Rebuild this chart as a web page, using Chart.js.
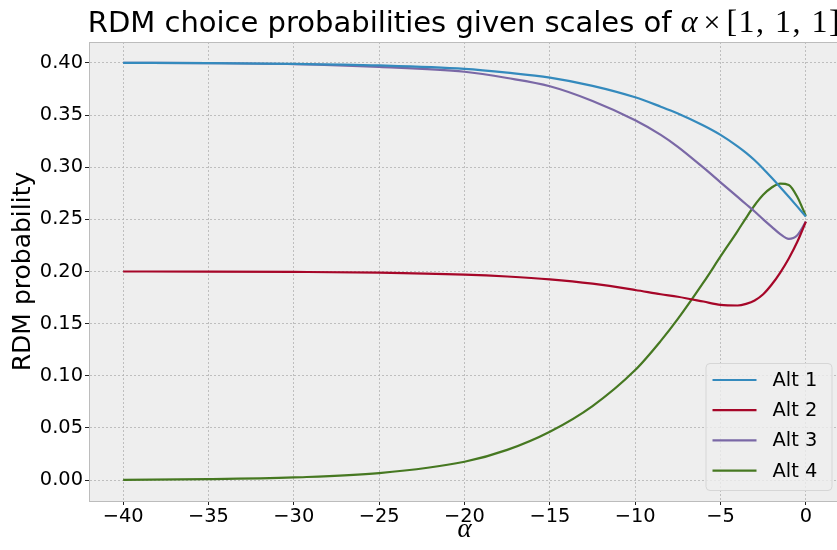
<!DOCTYPE html>
<html>
<head>
<meta charset="utf-8">
<script src="https://cdn.jsdelivr.net/npm/chart.js@4.4.1/dist/chart.umd.min.js"></script>
<style>
  html, body { margin: 0; padding: 0; background: #fff; overflow: hidden; }
  canvas { display: block; }
</style>
</head>
<body>
<canvas id="rdmChart" width="845" height="550"></canvas>
<script>
const alphas = [-40, -35, -30, -25, -20, -17.5, -15, -12.5, -10, -8.5, -7.5, -6, -5, -4, -3.5, -3, -2.5, -2, -1.5, -1, -0.5, 0];

const alt1 = [0.4000, 0.3998, 0.3991, 0.3975, 0.3942, 0.3906, 0.3859, 0.3780, 0.3670, 0.3580, 0.3515, 0.3400, 0.3310, 0.3200, 0.3137, 0.3066, 0.2985, 0.2898, 0.2808, 0.2716, 0.2622, 0.2526];
const alt2 = [0.2000, 0.1999, 0.1996, 0.1989, 0.1970, 0.1952, 0.1925, 0.1883, 0.1823, 0.1782, 0.1758, 0.1712, 0.1680, 0.1674, 0.1690, 0.1722, 0.1782, 0.1875, 0.1990, 0.2125, 0.2285, 0.2478];
const alt3 = [0.4000, 0.3997, 0.3988, 0.3962, 0.3915, 0.3855, 0.3776, 0.3635, 0.3450, 0.3310, 0.3195, 0.2995, 0.2855, 0.2715, 0.2645, 0.2575, 0.2500, 0.2428, 0.2358, 0.2313, 0.2348, 0.2478];
const alt4 = [0.0003, 0.0009, 0.0026, 0.0067, 0.0176, 0.0290, 0.0464, 0.0710, 0.1055, 0.1335, 0.1545, 0.1895, 0.2144, 0.2388, 0.2515, 0.2635, 0.2735, 0.2805, 0.2843, 0.2830, 0.2715, 0.2532];

const seriesNames = ['Alt 1', 'Alt 2', 'Alt 3', 'Alt 4'];
const seriesColors = ['#348ABD', '#A60628', '#7A68A6', '#467821'];

const xTicks = [-40, -35, -30, -25, -20, -15, -10, -5, 0];
const yTicks = [0.00, 0.05, 0.10, 0.15, 0.20, 0.25, 0.30, 0.35, 0.40];

const titleMain = 'RDM choice probabilities given scales of ';
const titleMath = ['α', '×', '[1, 1, 1]'];
const xLabel = 'α';
const yLabel = 'RDM probability';

// build datasets from the arrays
const allSeries = [alt1, alt2, alt3, alt4];
const datasets = allSeries.map((vals, i) => ({
    label: seriesNames[i],
    data: vals.map((v, j) => ({ x: alphas[j], y: v })),
    borderColor: seriesColors[i],
    backgroundColor: seriesColors[i],
    borderWidth: 2.2,
    pointRadius: 0,
    fill: false,
    cubicInterpolationMode: 'monotone'
}));

// matplotlib bmh look: grey panel, frame, title, labels, legend
const bmhDecor = {
    id: 'bmhDecor',
    beforeDraw(chart) {
        const ctx = chart.ctx;
        const a = chart.chartArea;
        ctx.save();
        ctx.fillStyle = '#ffffff';
        ctx.fillRect(0, 0, chart.width, chart.height);
        ctx.fillStyle = '#eeeeee';
        ctx.fillRect(a.left, a.top, a.right - a.left, a.bottom - a.top);
        ctx.restore();
    },
    afterDraw(chart) {
        const ctx = chart.ctx;
        const a = chart.chartArea;
        ctx.save();

        // frame
        ctx.strokeStyle = '#bcbcbc';
        ctx.lineWidth = 1;
        ctx.strokeRect(a.left + 0.5, a.top + 0.5, a.right - a.left - 1, a.bottom - a.top);

        // title with math part
        const cx = (a.left + a.right) / 2;
        const parts = [
            { t: titleMain, f: '29px "DejaVu Sans"', gap: 0, ls: '0px' },
            { t: titleMath[0], f: 'italic 32px "Liberation Serif"', gap: 0, ls: '0px' },
            { t: titleMath[1], f: '30px "Liberation Serif"', gap: 6, ls: '0px' },
            { t: titleMath[2], f: '32px "Liberation Serif"', gap: 6, ls: '1.5px' }
        ];
        let total = 0;
        parts.forEach(p => {
            ctx.font = p.f;
            ctx.letterSpacing = p.ls;
            p.w = ctx.measureText(p.t).width;
            total += p.w + p.gap;
        });
        let x = cx - total / 2;
        ctx.fillStyle = '#000';
        ctx.textBaseline = 'alphabetic';
        ctx.textAlign = 'left';
        parts.forEach(p => {
            x += p.gap;
            ctx.font = p.f;
            ctx.letterSpacing = p.ls;
            ctx.fillText(p.t, x, 32);
            x += p.w;
        });
        ctx.letterSpacing = '0px';

        // axis labels
        ctx.font = 'italic 27px "Liberation Serif"';
        ctx.textAlign = 'center';
        ctx.textBaseline = 'middle';
        ctx.fillText(xLabel, cx, 530);

        ctx.save();
        ctx.translate(23, (a.top + a.bottom) / 2);
        ctx.rotate(-Math.PI / 2);
        ctx.font = '25px "DejaVu Sans"';
        ctx.fillText(yLabel, 0, 0);
        ctx.restore();

        // legend, lower right inside the axes
        const boxW = 126, boxH = 127;
        const bx = a.right - 8.5 - boxW;
        const by = a.bottom - 11 - boxH;
        ctx.beginPath();
        ctx.roundRect(bx + 0.5, by + 0.5, boxW, boxH, 4);
        ctx.fillStyle = 'rgba(238,238,238,0.8)';
        ctx.fill();
        ctx.strokeStyle = '#d6d6d6';
        ctx.lineWidth = 1;
        ctx.stroke();

        ctx.font = '19.4px "DejaVu Sans"';
        ctx.textAlign = 'left';
        ctx.textBaseline = 'middle';
        chart.data.datasets.forEach((ds, i) => {
            const ry = by + 17 + i * 30.2;
            ctx.strokeStyle = ds.borderColor;
            ctx.lineWidth = 2.2;
            ctx.beginPath();
            ctx.moveTo(bx + 7, ry);
            ctx.lineTo(bx + 51, ry);
            ctx.stroke();
            ctx.fillStyle = '#000';
            ctx.fillText(ds.label, bx + 67, ry + 1);
        });
        ctx.restore();
    }
};

const tickFont = { family: '"DejaVu Sans"', size: 19.4 };

new Chart(document.getElementById('rdmChart'), {
    type: 'line',
    data: { datasets },
    options: {
        responsive: false,
        animation: false,
        layout: { padding: { top: 42, right: 5, left: 0, bottom: 0 } },
        plugins: {
            legend: { display: false },
            tooltip: { enabled: false },
            title: { display: false }
        },
        scales: {
            x: {
                type: 'linear',
                min: -42,
                max: 2,
                afterBuildTicks: (scale) => { scale.ticks = xTicks.map(v => ({ value: v })); },
                afterFit: (scale) => { scale.height = 49; },
                grid: {
                    color: '#b2b2b2',
                    lineWidth: 0.8,
                    tickColor: '#222',
                    tickLength: 4,
                    tickWidth: 1
                },
                border: { color: '#bcbcbc', width: 1, dash: [2, 2] },
                ticks: {
                    font: tickFont,
                    color: '#000',
                    padding: 0,
                    maxRotation: 0,
                    callback: (v) => (v < 0 ? '\u2212' + Math.abs(v) : String(v))
                }
            },
            y: {
                type: 'linear',
                min: -0.02,
                max: 0.42,
                afterBuildTicks: (scale) => { scale.ticks = yTicks.map(v => ({ value: v })); },
                afterFit: (scale) => { scale.width = 89; },
                grid: {
                    color: '#b2b2b2',
                    lineWidth: 0.8,
                    tickColor: '#222',
                    tickLength: 4,
                    tickWidth: 1
                },
                border: { color: '#bcbcbc', width: 1, dash: [2, 2] },
                ticks: {
                    font: tickFont,
                    color: '#000',
                    padding: 2,
                    callback: (v) => v.toFixed(2)
                }
            }
        }
    },
    plugins: [bmhDecor]
});
</script>
</body>
</html>
